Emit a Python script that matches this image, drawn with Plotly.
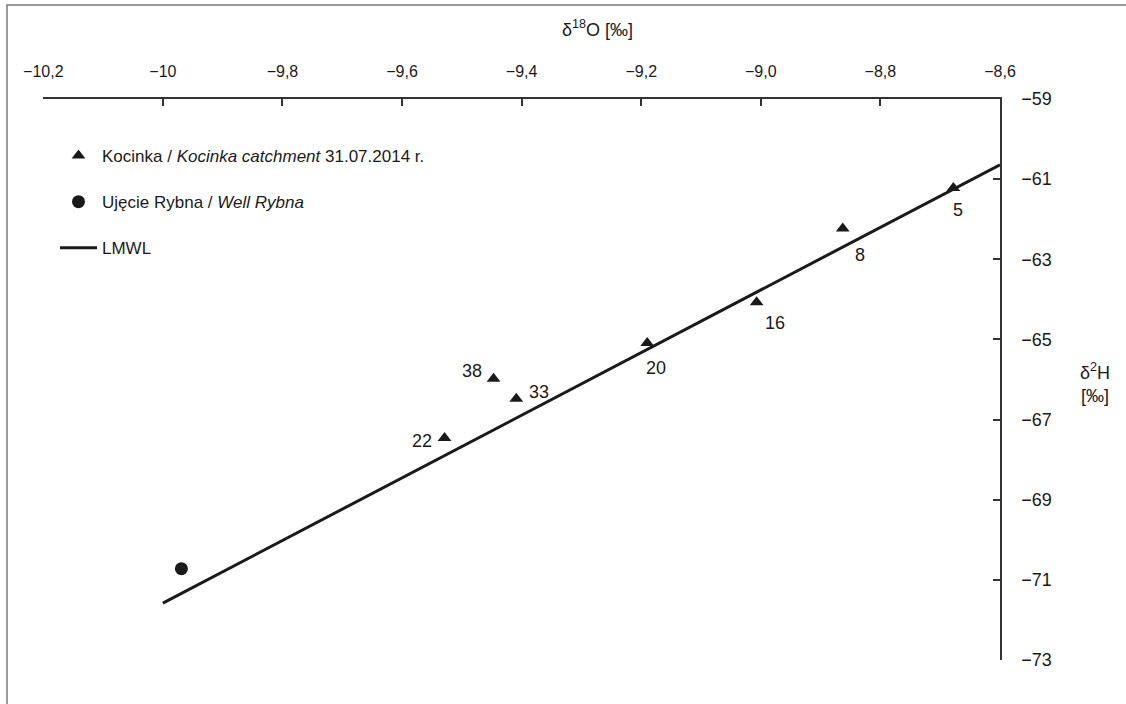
import plotly.graph_objects as go

# --- data ---
kocinka_d18O = [-8.678, -8.863, -9.007, -9.190, -9.447, -9.409, -9.529]
kocinka_d2H = [-61.22, -62.23, -64.07, -65.09, -65.98, -66.48, -67.46]
kocinka_labels = ["5", "8", "16", "20", "38", "33", "22"]
# label offsets (pixels) relative to the marker
label_dx = [5, 17, 18, 9, -22, 23, -23]
label_dy = [-22, -27, -21, -25, 8, 7, -3]

well_d18O = [-9.969]
well_d2H = [-70.72]

lmwl_d18O = [-10.0, -8.6]
lmwl_d2H = [-71.58, -60.64]

x_tickvals = [-10.2, -10.0, -9.8, -9.6, -9.4, -9.2, -9.0, -8.8, -8.6]
x_ticktext = ["\u221210,2", "\u221210", "\u22129,8", "\u22129,6", "\u22129,4",
              "\u22129,2", "\u22129,0", "\u22128,8", "\u22128,6"]
y_tickvals = [-59, -61, -63, -65, -67, -69, -71, -73]
y_ticktext = ["\u221259", "\u221261", "\u221263", "\u221265", "\u221267",
              "\u221269", "\u221271", "\u221273"]

FONT = "Liberation Sans Narrow, Arial Narrow, Liberation Sans, sans-serif"
INK = "#1a1a1a"
W, H = 1126, 704

fig = go.Figure()
fig.add_trace(go.Scatter(
    x=kocinka_d18O, y=kocinka_d2H, mode="markers",
    marker=dict(symbol="triangle-up", size=12, color=INK),
    name="Kocinka / <i>Kocinka catchment</i> 31.07.2014 r.",
    legendgroup="a"))
fig.add_trace(go.Scatter(
    x=well_d18O, y=well_d2H, mode="markers",
    marker=dict(symbol="circle", size=13, color=INK),
    name="Uj\u0119cie Rybna / <i>Well Rybna</i>", legendgroup="b"))
fig.add_trace(go.Scatter(
    x=lmwl_d18O, y=lmwl_d2H, mode="lines",
    line=dict(color=INK, width=3), name="LMWL", legendgroup="c"))

for x, y, t, dx, dy in zip(kocinka_d18O, kocinka_d2H, kocinka_labels, label_dx, label_dy):
    fig.add_annotation(x=x, y=y, text=t, showarrow=False, xshift=dx, yshift=dy,
                       font=dict(family=FONT, size=18, color=INK))

# axis titles
fig.add_annotation(x=597 / W, y=1 - 29 / H, xref="paper", yref="paper",
                   xanchor="center", yanchor="middle",
                   text="\u03b4<sup>18</sup>O [\u2030]", showarrow=False,
                   font=dict(family=FONT, size=18, color=INK))
fig.add_annotation(x=1095 / W, y=1 - 383 / H, xref="paper", yref="paper",
                   xanchor="center", yanchor="middle",
                   text="\u03b4<sup>2</sup>H<br>[\u2030]", showarrow=False,
                   font=dict(family=FONT, size=18, color=INK))

# outer frame
fig.add_shape(type="rect", xref="paper", yref="paper",
              x0=7 / W, x1=1.02, y0=-0.02, y1=1 - 5 / H,
              line=dict(color="#7a7a7a", width=1.5), layer="below")

fig.update_layout(
    width=W, height=H,
    margin=dict(l=0, r=0, t=0, b=0, pad=0, autoexpand=False),
    paper_bgcolor="white", plot_bgcolor="white",
    font=dict(family=FONT, color=INK),
    showlegend=True,
    legend=dict(x=55 / W, y=1 - 138 / H, xanchor="left", yanchor="top",
                font=dict(family=FONT, size=17, color=INK), itemwidth=37,
                tracegroupgap=21, bgcolor="rgba(0,0,0,0)"),
    xaxis=dict(
        domain=[43.3 / W, 1000 / W], range=[-10.2, -8.6], side="top",
        tickmode="array", tickvals=x_tickvals, ticktext=x_ticktext,
        ticks="inside", ticklen=7, tickwidth=1.5, tickcolor="#333",
        showline=True, linecolor="#333", linewidth=1.5,
        showgrid=False, zeroline=False, anchor="y", automargin=False,
        tickfont=dict(family=FONT, size=16, color=INK), ticklabelstandoff=14),
    yaxis=dict(
        domain=[(H - 660) / H, (H - 99) / H], range=[-73, -59], side="right",
        tickmode="array", tickvals=y_tickvals, ticktext=y_ticktext,
        ticks="inside", ticklen=7, tickwidth=1.5, tickcolor="#333",
        showline=True, linecolor="#333", linewidth=1.5,
        showgrid=False, zeroline=False, anchor="x", automargin=False,
        tickfont=dict(family=FONT, size=18, color=INK), ticklabelstandoff=16),
)

fig.write_html("out.html", config={"displayModeBar": False},
               post_script="document.body.style.margin='0px';")
